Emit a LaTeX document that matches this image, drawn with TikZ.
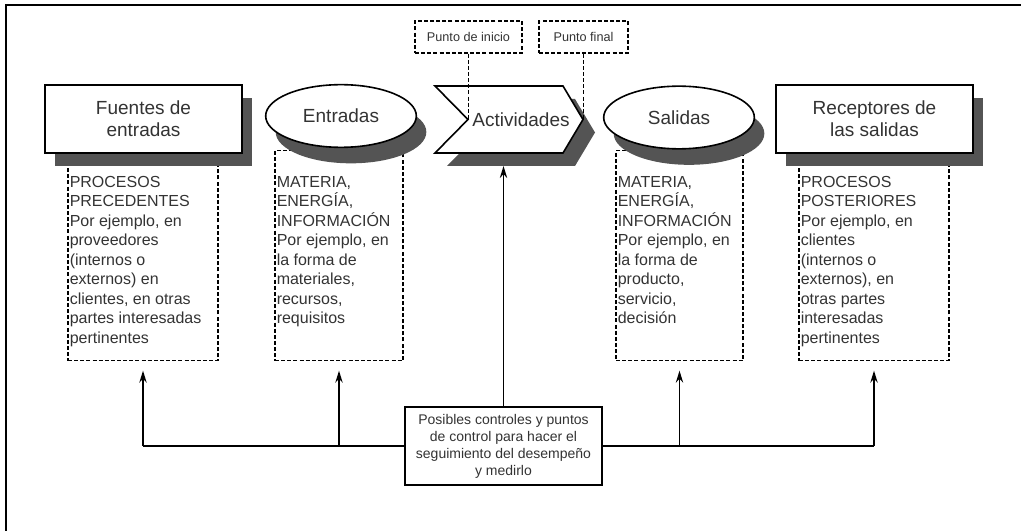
\documentclass[tikz,border=0pt]{standalone}
\usepackage{fontspec}
\setmainfont{Liberation Sans}
\usetikzlibrary{shapes.geometric,shadows,arrows.meta}
\definecolor{shadowc}{gray}{0.33}
\definecolor{txtc}{gray}{0.2}
\begin{document}
\begin{tikzpicture}[x=0.75pt,y=-0.75pt,
  outline/.style={draw=black, line width=1.2pt, fill=white},
  head/.style={text=txtc, font=\fontsize{14.25}{16.5}\selectfont, align=center, inner sep=0pt},
  hbox/.style={outline, rectangle, head, minimum width=147.75pt, minimum height=51pt,
     drop shadow={shadow xshift=7.5pt, shadow yshift=-10pt, fill=shadowc, opacity=1}},
  hell/.style={outline, ellipse, head, minimum width=113pt, minimum height=47pt,
     drop shadow={shadow xshift=7.5pt, shadow yshift=-12pt, fill=shadowc, opacity=1}},
  dline/.style={draw=black, line width=1pt, dash pattern=on 3pt off 1.6pt},
  dbox/.style={dline, rectangle, inner sep=0pt, minimum height=157.5pt},
  body/.style={text=txtc, font=\fontsize{12}{14.6}\selectfont, align=left, inner sep=0pt, anchor=north west},
  small/.style={dline, rectangle, text=txtc, font=\fontsize{9.5}{11}\selectfont, inner sep=0pt, minimum height=24pt},
  ctrlbox/.style={draw=black, line width=1.5pt, fill=white, text=txtc, align=center,
     font=\fontsize{10.5}{12.75}\selectfont, minimum width=147.75pt, minimum height=58.5pt, inner sep=0pt},
  conn/.style={draw=black, line width=1.1pt},
  arr/.style={conn, -{Stealth[length=9pt, width=5.5pt]}}
]
\useasboundingbox (0,0) rectangle (1027,531);
% frame
\draw[line width=1.6pt] (6,531) -- (6,5) -- (1021,5);

% dashed boxes (drawn first, tops hidden by shapes)
\node[dbox, minimum width=112.5pt, anchor=north] (fdash) at (143,150) {};
\node[dbox, minimum width=96pt, anchor=north] (edash) at (339,150) {};
\node[dbox, minimum width=95.25pt, anchor=north] (sdash) at (679.5,150) {};
\node[dbox, minimum width=112.5pt, anchor=north] (rdash) at (874,150) {};

% header shapes
\node[hbox] (fuentes) at (143.5,119) {Fuentes de\\entradas};
\node[hell] (entradas) at (341,116) {Entradas};
\node[hell] (salidas) at (679,117.5) {Salidas};
\node[hbox] (receptores) at (874.5,119) {Receptores de\\las salidas};

% chevron
\fill[shadowc] (447,99) -- (575,99) -- (595,132.5) -- (575,166) -- (447,166) -- (480,132.5) -- cycle;
\draw[outline] (435,86) -- (563,86) -- (583,119.5) -- (563,153) -- (435,153) -- (468,119.5) -- cycle;
\coordinate (notch) at (468.5,119.5);
\coordinate (tip) at (583.5,119.5);
\coordinate (actbot) at (503.5,166);
\node[head] (act) at (521,120) {Actividades};

% start / end points
\node[small, minimum width=80.25pt] (inicio) at (468.5,37) {Punto de inicio};
\node[small, minimum width=66.75pt] (final) at (583.5,37) {Punto final};
\draw[dline] (inicio.south) -- (notch);
\draw[dline] (final.south) -- (tip);

% texts
\node[body] (ftxt) at (69.5,176) {PROCESOS\\PRECEDENTES\\Por ejemplo, en\\proveedores\\(internos o\\externos) en\\clientes, en otras\\partes interesadas\\pertinentes};
\node[body] (etxt) at (276.5,176) {MATERIA,\\ENERGÍA,\\INFORMACIÓN\\Por ejemplo, en\\la forma de\\materiales,\\recursos,\\requisitos};
\node[body] (stxt) at (617.5,176) {MATERIA,\\ENERGÍA,\\INFORMACIÓN\\Por ejemplo, en\\la forma de\\producto,\\servicio,\\decisión};
\node[body] (rtxt) at (800.5,176) {PROCESOS\\POSTERIORES\\Por ejemplo, en\\clientes\\(internos o\\externos), en\\otras partes\\interesadas\\pertinentes};

% control box
\node[ctrlbox] (ctrl) at (503.5,446) {Posibles controles y puntos\\de control para hacer el\\seguimiento del desempeño\\y medirlo};

% connectors
\draw[arr] (ctrl.north) -- (actbot);
\draw[conn] (fdash.south |- ctrl.west) -- (ctrl.west);
\draw[conn] (ctrl.east) -- (rdash.south |- ctrl.east);
\draw[arr] (fdash.south |- ctrl.west) -- ([yshift=-7pt]fdash.south);
\draw[arr] (edash.south |- ctrl.west) -- ([yshift=-7pt]edash.south);
\draw[arr] (sdash.south |- ctrl.east) -- ([yshift=-7pt]sdash.south);
\draw[arr] (rdash.south |- ctrl.east) -- ([yshift=-7pt]rdash.south);
\end{tikzpicture}
\end{document}
